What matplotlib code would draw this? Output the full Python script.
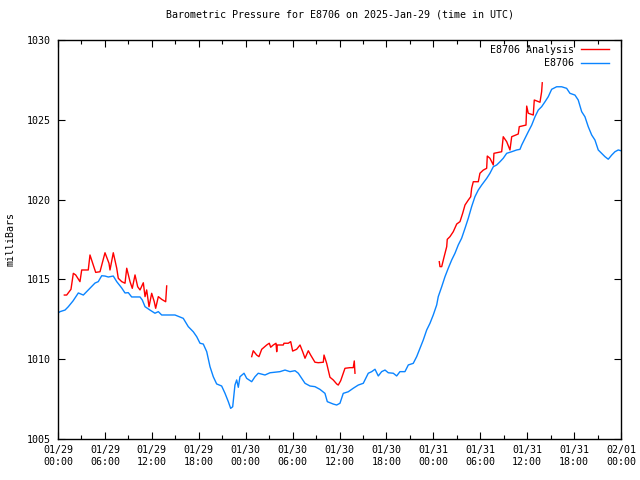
import numpy as np
import matplotlib
matplotlib.use("Agg")
import matplotlib.pyplot as plt
from matplotlib.ticker import MultipleLocator

# hours since 2025-01-29 00:00 UTC, pressure in milliBars
obs_hours = [0, 0.26, 0.9, 1.32, 1.92, 2.6, 3.24, 3.87, 4.73, 5.15, 5.59, 6.01, 6.43, 7.07,
             7.51, 8.15, 8.57, 8.99, 9.42, 10.49, 10.78, 11.13, 11.76, 12.4, 12.83, 13.26,
             14.96, 16.02, 16.66, 17.3, 17.74, 18.16, 18.58, 19.02, 19.44, 19.86, 20.29,
             20.93, 21.36, 21.78, 22.08, 22.34, 22.63, 22.85, 23.06, 23.27, 23.79, 24.13,
             24.77, 25.19, 25.61, 26.47, 27.11, 28.39, 29.03, 29.67, 30.31, 30.73, 31.16,
             31.59, 32.23, 32.86, 33.5, 34.14, 34.44, 35.2, 35.64, 36.06, 36.48, 37.12,
             37.76, 38.4, 39.04, 39.68, 40.12, 40.54, 40.96, 41.39, 41.82, 42.24, 42.88,
             43.31, 43.73, 44.37, 44.8, 45.43, 45.87, 46.29, 46.71, 47.15, 47.57, 47.99,
             48.43, 48.63, 49.07, 49.49, 49.91, 50.35, 50.77, 51.19, 51.62, 52.05, 52.47,
             52.9, 53.32, 53.75, 54.18, 54.82, 55.24, 55.67, 56.1, 56.52, 56.94, 57.38,
             58.02, 58.66, 59.08, 59.3, 59.72, 60.14, 60.58, 61.0, 61.42, 61.85, 62.28,
             62.7, 63.13, 63.77, 64.41, 65.05, 65.47, 66.11, 66.53, 66.97, 67.39, 67.81,
             68.25, 68.67, 69.09, 69.53, 69.95, 70.37, 70.81, 71.23, 71.65, 72.0]
obs_mb = [1012.89, 1012.98, 1013.08, 1013.29, 1013.65, 1014.15, 1014.02, 1014.34, 1014.77,
          1014.86, 1015.23, 1015.21, 1015.15, 1015.21, 1014.86, 1014.46, 1014.15, 1014.17,
          1013.90, 1013.90, 1013.71, 1013.29, 1013.08, 1012.88, 1012.98, 1012.77, 1012.77,
          1012.56, 1012.04, 1011.72, 1011.41, 1011.0, 1010.95, 1010.47, 1009.53, 1008.90,
          1008.45, 1008.32, 1007.86, 1007.34, 1006.92, 1007.02, 1008.38, 1008.70, 1008.24,
          1008.90, 1009.12, 1008.80, 1008.59, 1008.90, 1009.12, 1009.01, 1009.15, 1009.22,
          1009.32, 1009.22, 1009.28, 1009.12, 1008.80, 1008.49, 1008.32, 1008.28, 1008.11,
          1007.86, 1007.34, 1007.19, 1007.13, 1007.24, 1007.86, 1007.96, 1008.18, 1008.38,
          1008.49, 1009.12, 1009.22, 1009.37, 1008.95, 1009.22, 1009.32, 1009.15, 1009.12,
          1008.95, 1009.22, 1009.22, 1009.64, 1009.74, 1010.16, 1010.68, 1011.20, 1011.83,
          1012.25, 1012.77, 1013.40, 1013.92, 1014.54, 1015.17, 1015.70, 1016.22, 1016.64,
          1017.16, 1017.58, 1018.20, 1018.83, 1019.56, 1020.18, 1020.60, 1020.91, 1021.33,
          1021.65, 1022.06, 1022.17, 1022.37, 1022.59, 1022.90, 1023.0, 1023.11, 1023.15,
          1023.42, 1023.84, 1024.25, 1024.67, 1025.19, 1025.61, 1025.82, 1026.13, 1026.45,
          1026.91, 1027.07, 1027.07, 1026.97, 1026.66, 1026.55, 1026.24, 1025.51, 1025.19,
          1024.57, 1024.05, 1023.73, 1023.11, 1022.90, 1022.69, 1022.53, 1022.79, 1023.0,
          1023.11, 1023.06]

# analysis runs (three separate segments)
ana1_hours = [0.81, 1.11, 1.66, 1.96, 2.26, 2.81, 3.03, 3.87, 4.09, 4.51, 4.82, 5.37, 6.01,
              6.52, 6.65, 7.07, 7.51, 7.71, 8.15, 8.57, 8.79, 9.21, 9.5, 9.85, 10.19, 10.49,
              10.91, 11.13, 11.34, 11.64, 11.98, 12.31, 12.49, 12.83, 13.26, 13.77, 13.9]
ana1_mb = [1014.02, 1014.02, 1014.38, 1015.38, 1015.28, 1014.86, 1015.59, 1015.59, 1016.53,
           1015.90, 1015.44, 1015.48, 1016.67, 1016.01, 1015.59, 1016.67, 1015.70, 1015.07,
           1014.86, 1014.76, 1015.70, 1014.86, 1014.44, 1015.28, 1014.54, 1014.34, 1014.79,
           1013.92, 1014.34, 1013.29, 1014.13, 1013.60, 1013.19, 1013.92, 1013.75, 1013.60,
           1014.59]
ana2_hours = [24.77, 24.97, 25.41, 25.7, 26.05, 26.69, 27.02, 27.2, 27.53, 27.88, 27.97,
              28.04, 28.81, 28.9, 29.45, 29.76, 30.01, 30.52, 30.95, 31.29, 31.59, 32.01,
              32.31, 32.86, 33.29, 33.93, 34.02, 34.36, 34.78, 35.2, 35.64, 35.84, 36.15,
              36.7, 37.34, 37.76, 37.89, 37.98]
ana2_mb = [1010.16, 1010.53, 1010.26, 1010.16, 1010.62, 1010.89, 1011.0, 1010.75, 1010.89,
           1011.0, 1010.47, 1010.89, 1010.89, 1011.0, 1011.0, 1011.10, 1010.51, 1010.62,
           1010.89, 1010.47, 1010.06, 1010.53, 1010.26, 1009.81, 1009.78, 1009.81, 1010.26,
           1009.74, 1008.87, 1008.70, 1008.45, 1008.38, 1008.65, 1009.43, 1009.47, 1009.47,
           1009.89, 1009.12]
ana3_hours = [48.76, 48.85, 49.07, 49.36, 49.71, 49.78, 50.13, 50.55, 50.99, 51.41, 51.75,
              52.05, 52.47, 52.78, 52.9, 53.11, 53.75, 53.96, 54.39, 54.82, 54.9, 55.24,
              55.67, 55.75, 56.74, 56.94, 57.38, 57.8, 58.02, 58.86, 58.99, 59.85, 59.94,
              60.14, 60.78, 60.91, 61.64, 61.85, 61.93]
ana3_mb = [1016.11, 1015.80, 1015.80, 1016.38, 1017.05, 1017.51, 1017.68, 1017.99, 1018.47,
           1018.62, 1019.14, 1019.66, 1019.97, 1020.18, 1020.71, 1021.12, 1021.12, 1021.65,
           1021.85, 1021.96, 1022.73, 1022.59, 1022.17, 1022.90, 1023.0, 1023.94, 1023.63,
           1023.11, 1023.94, 1024.11, 1024.57, 1024.67, 1025.86, 1025.41, 1025.30, 1026.24,
           1026.10, 1026.76, 1027.32]

tick_hours = [0, 6, 12, 18, 24, 30, 36, 42, 48, 54, 60, 66, 72]
tick_labels = ["01/29\n00:00", "01/29\n06:00", "01/29\n12:00", "01/29\n18:00",
               "01/30\n00:00", "01/30\n06:00", "01/30\n12:00", "01/30\n18:00",
               "01/31\n00:00", "01/31\n06:00", "01/31\n12:00", "01/31\n18:00",
               "02/01\n00:00"]

RED = "#ff0000"
BLUE = "#0a84ff"
FONT = "DejaVu Sans Mono"
FS = 7.2

plt.rcParams["font.family"] = FONT
plt.rcParams["font.size"] = FS

fig = plt.figure(figsize=(6.4, 4.8), dpi=100)
ax = fig.add_axes([58 / 640, 1 - 439 / 480, 563 / 640, 399 / 480])

line_a, = ax.plot(ana1_hours, ana1_mb, color=RED, lw=1.0, label="E8706 Analysis")
ax.plot(ana2_hours, ana2_mb, color=RED, lw=1.0)
ax.plot(ana3_hours, ana3_mb, color=RED, lw=1.0)
line_o, = ax.plot(obs_hours, obs_mb, color=BLUE, lw=1.0, label="E8706")

ax.set_xlim(0, 72)
ax.set_ylim(1005, 1030)
ax.set_xticks(tick_hours)
ax.set_xticklabels(tick_labels, linespacing=1.25)
ax.xaxis.set_minor_locator(MultipleLocator(3))
ax.set_yticks(np.arange(1005, 1031, 5))
ax.tick_params(which="both", direction="in", top=True, right=True, width=0.8,
               labelsize=FS, colors="black")
ax.tick_params(which="major", length=5, pad=4)
ax.tick_params(which="minor", length=3)
ax.tick_params(axis="y", pad=5)
for s in ax.spines.values():
    s.set_linewidth(1.0)

ax.set_ylabel("milliBars", fontsize=FS, labelpad=8)
# gnuplot centres the title over the plot area
ax.set_title("Barometric Pressure for E8706 on 2025-Jan-29 (time in UTC)",
             fontsize=FS, pad=16)

ax.legend(handles=[line_a, line_o], loc="upper right", bbox_to_anchor=(0.9876, 1.0),
          frameon=False, markerfirst=False, fontsize=FS, handlelength=2.8,
          handletextpad=0.7, labelspacing=0.35, borderaxespad=0.1, borderpad=0.4)

fig.savefig("out.png", dpi=100)
plt.close(fig)
